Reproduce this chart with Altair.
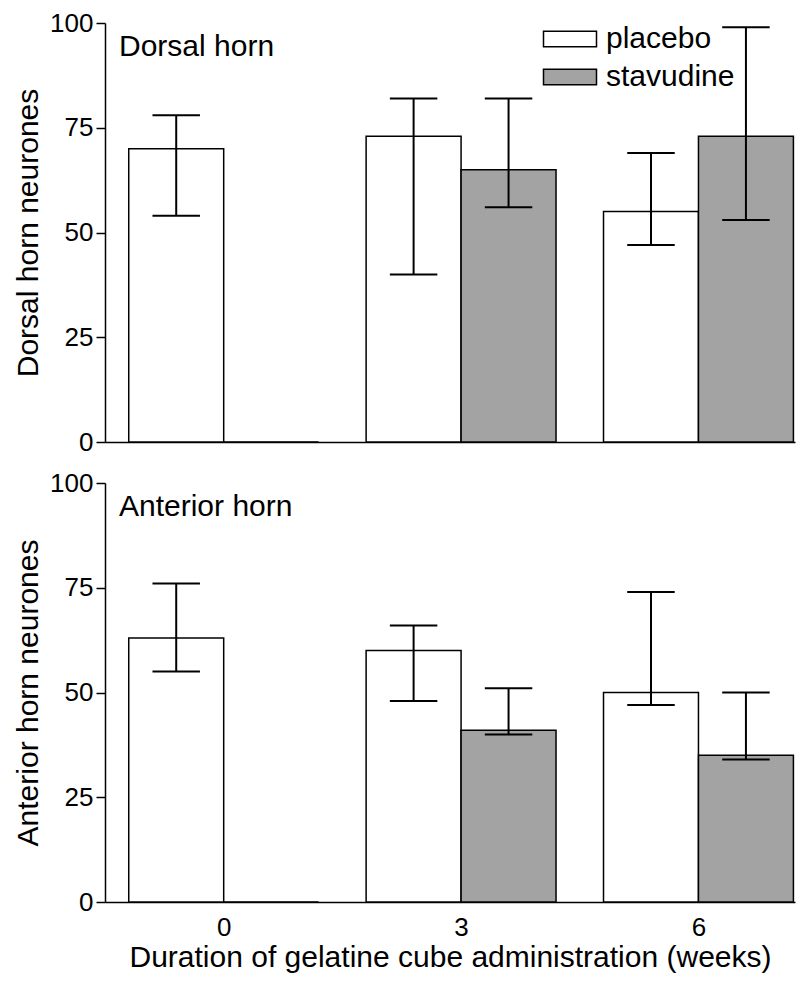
import altair as alt
import pandas as pd

FONT = "Liberation Sans"

weeks = [0, 3, 6]
groups = ["placebo", "stavudine"]

dorsal_placebo = [70, 73, 55]
dorsal_placebo_lo = [54, 40, 47]
dorsal_placebo_hi = [78, 82, 69]
dorsal_stavudine = [0, 65, 73]
dorsal_stavudine_lo = [None, 56, 53]
dorsal_stavudine_hi = [None, 82, 99]

anterior_placebo = [63, 60, 50]
anterior_placebo_lo = [55, 48, 47]
anterior_placebo_hi = [76, 66, 74]
anterior_stavudine = [0, 41, 35]
anterior_stavudine_lo = [None, 40, 34]
anterior_stavudine_hi = [None, 51, 50]

y_ticks = [0, 25, 50, 75, 100]
BAR_W = 1.2      # bar width in weeks
CAP_HALF = 0.3   # half cap width in weeks
BIG = 30
TICK = 26


def build_df(pm, plo, phi, sm, slo, shi):
    rows = []
    for i, w in enumerate(weeks):
        rows.append(dict(week=w, group="placebo", mean=pm[i], lo=plo[i], hi=phi[i],
                         x=w - BAR_W, x2=w))
        rows.append(dict(week=w, group="stavudine", mean=sm[i], lo=slo[i], hi=shi[i],
                         x=w, x2=w + BAR_W))
    df = pd.DataFrame(rows)
    df["xc"] = (df["x"] + df["x2"]) / 2
    df["cl"] = df["xc"] - CAP_HALF
    df["cr"] = df["xc"] + CAP_HALF
    return df


def panel(df, label, ytitle, bottom, legend):
    xscale = alt.Scale(domain=[-1.5, 7.22], nice=False, zero=False)
    yscale = alt.Scale(domain=[0, 100], nice=False)
    if bottom:
        xaxis = alt.Axis(values=weeks, format="d", ticks=False, labelPadding=12,
                         labelFontSize=TICK,
                         title="Duration of gelatine cube administration (weeks)",
                         titleFontSize=BIG, titleFontWeight="normal", titlePadding=2,
                         grid=False, domainColor="black", domainWidth=1.5,
                         labelColor="black", titleColor="black")
    else:
        xaxis = alt.Axis(labels=False, ticks=False, title=None, grid=False,
                         domainColor="black", domainWidth=1.5)
    yaxis = alt.Axis(values=y_ticks, format="d", tickSize=9, tickWidth=1.5,
                     tickColor="black", labelPadding=3, labelFontSize=TICK,
                     labelColor="black", title=ytitle, titleFontSize=BIG,
                     titleFontWeight="normal", titleColor="black", titlePadding=6,
                     grid=False, domainColor="black", domainWidth=1.5)
    if legend:
        leg = alt.Legend(title=None, orient="none", legendX=450, legendY=1,
                         symbolType="M-2.12,-0.62H2.12V0.62H-2.12Z", symbolSize=625,
                         symbolStrokeColor="black", symbolStrokeWidth=1.5,
                         labelFontSize=BIG, labelColor="black", labelOffset=21,
                         rowPadding=8, padding=0, labelFont=FONT)
    else:
        leg = None
    base = alt.Chart(df)
    bars = base.mark_bar(stroke="black", strokeWidth=1.5).encode(
        x=alt.X("x:Q", scale=xscale, axis=xaxis),
        x2="x2:Q",
        y=alt.Y("mean:Q", scale=yscale, axis=yaxis),
        y2=alt.datum(0),
        fill=alt.Fill("group:N", scale=alt.Scale(domain=groups, range=["white", "#a3a3a3"]),
                      legend=leg),
    )
    err = base.transform_filter("isValid(datum.hi)")
    stem = err.mark_rule(color="black", strokeWidth=2).encode(
        x="xc:Q", y="lo:Q", y2="hi:Q")
    cap_hi = err.mark_rule(color="black", strokeWidth=2).encode(
        x="cl:Q", x2="cr:Q", y="hi:Q")
    cap_lo = err.mark_rule(color="black", strokeWidth=2).encode(
        x="cl:Q", x2="cr:Q", y="lo:Q")
    txt = alt.Chart(pd.DataFrame({"label": [label]})).mark_text(
        align="left", baseline="alphabetic", fontSize=BIG, font=FONT, color="black"
    ).encode(text="label:N", x=alt.value(14), y=alt.value(33))
    return alt.layer(bars, stem, cap_hi, cap_lo, txt).properties(width=690, height=419)


dorsal = build_df(dorsal_placebo, dorsal_placebo_lo, dorsal_placebo_hi,
                  dorsal_stavudine, dorsal_stavudine_lo, dorsal_stavudine_hi)
anterior = build_df(anterior_placebo, anterior_placebo_lo, anterior_placebo_hi,
                    anterior_stavudine, anterior_stavudine_lo, anterior_stavudine_hi)

top = panel(dorsal, "Dorsal horn", "Dorsal horn neurones", bottom=False, legend=True)
bot = panel(anterior, "Anterior horn", "Anterior horn neurones", bottom=True, legend=False)

chart = alt.vconcat(top, bot, spacing=41, bounds="flush").resolve_scale(
    fill="independent"
).configure(font=FONT).configure_view(stroke=None).properties(
    padding={"left": 5, "top": 2, "right": 5, "bottom": 5}
)

chart.save("out.html", embed_options={"renderer": "svg", "actions": False})
